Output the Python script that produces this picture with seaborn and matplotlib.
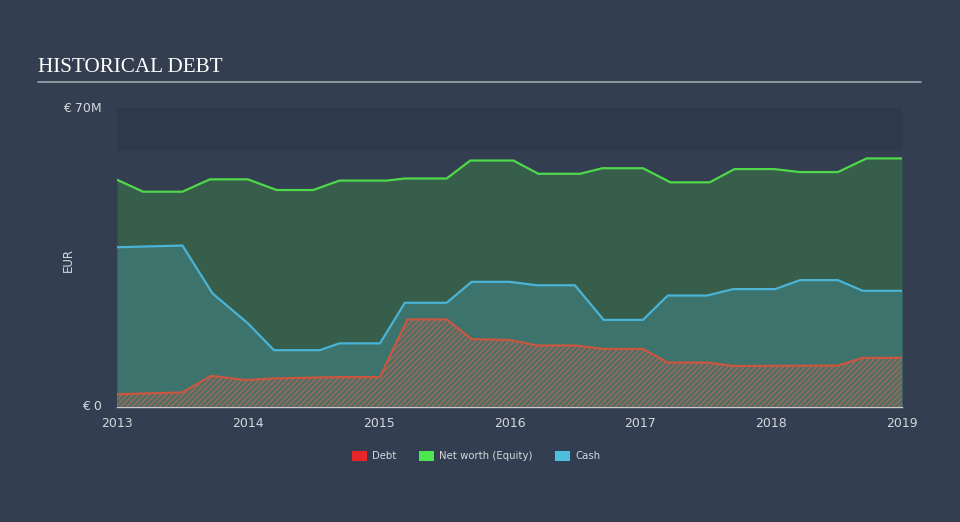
import numpy as np
import pandas as pd
import matplotlib
matplotlib.use("Agg")
import matplotlib.pyplot as plt
import seaborn as sns
from matplotlib.patches import Patch

# ---- data (years as float offset from 2013, values in € millions) ----
equity_t = [0, 0.2, 0.5, 0.71, 1.0, 1.22, 1.5, 1.7, 2.06, 2.2, 2.52, 2.7, 3.03, 3.22, 3.54, 3.71, 4.02, 4.23, 4.53, 4.72, 5.02, 5.22, 5.51, 5.73, 6.0]
equity_v = [53.2, 50.4, 50.4, 53.3, 53.3, 50.8, 50.8, 53.0, 53.0, 53.5, 53.5, 57.7, 57.7, 54.6, 54.6, 55.9, 55.9, 52.6, 52.6, 55.7, 55.7, 55.0, 55.0, 58.2, 58.2]

cash_t = [0, 0.5, 0.73, 1.0, 1.2, 1.55, 1.7, 2.01, 2.2, 2.52, 2.71, 3.0, 3.21, 3.5, 3.72, 4.02, 4.21, 4.51, 4.71, 5.03, 5.22, 5.51, 5.7, 6.0]
cash_v = [37.4, 37.8, 26.6, 19.6, 13.3, 13.3, 14.9, 14.9, 24.4, 24.4, 29.3, 29.3, 28.5, 28.5, 20.4, 20.4, 26.1, 26.1, 27.6, 27.6, 29.7, 29.7, 27.2, 27.2]

debt_t = [0, 0.5, 0.72, 0.98, 1.2, 1.7, 2.01, 2.22, 2.52, 2.71, 3.0, 3.21, 3.5, 3.72, 4.02, 4.21, 4.51, 4.71, 5.51, 5.7, 6.0]
debt_v = [3.0, 3.4, 7.3, 6.3, 6.7, 7.0, 7.0, 20.5, 20.5, 15.9, 15.7, 14.4, 14.4, 13.6, 13.6, 10.4, 10.4, 9.6, 9.7, 11.5, 11.5]

start_year = 2013
year_ticks = [2013, 2014, 2015, 2016, 2017, 2018, 2019]
y_ticks = [0, 70]
y_tick_labels = ["€ 0", "€ 70M"]

series_names = ["Debt", "Net worth (Equity)", "Cash"]
line_colors = {"Debt": "#c9573f", "Net worth (Equity)": "#4fd84a", "Cash": "#4ab3d6"}
legend_colors = {"Debt": "#e8262a", "Net worth (Equity)": "#4de84d", "Cash": "#4dbde0"}

BG = "#333f50"
TXT = "#d4d8dc"

rows = []
for name, ts, vs in [("Debt", debt_t, debt_v), ("Net worth (Equity)", equity_t, equity_v), ("Cash", cash_t, cash_v)]:
    for t, v in zip(ts, vs):
        rows.append({"year": start_year + t, "value": v, "series": name})
df = pd.DataFrame(rows)

sns.set_style("dark")
plt.rcParams["font.family"] = ["DejaVu Sans"]
plt.rcParams["hatch.linewidth"] = 1.0

fig = plt.figure(figsize=(9.6, 5.22), dpi=100, facecolor=BG)
ax = fig.add_axes([117/960, 1-407/522, 785/960, 299/522])
ax.set_facecolor(BG)

# darker band in upper part of plot
ax.axhspan(60, 70, color="#2e3a4b", zorder=0, lw=0)

eq = df[df.series == "Net worth (Equity)"]
ca = df[df.series == "Cash"]
de = df[df.series == "Debt"]
ax.fill_between(eq.year, 0, eq.value, color="#365e4b", lw=0, zorder=1)
ax.fill_between(ca.year, 0, ca.value, color="#3c746d", lw=0, zorder=2)
ax.fill_between(de.year, 0, de.value, facecolor="#4f6e66", edgecolor="#a06a5a",
                hatch="//////", lw=0, zorder=3)

sns.lineplot(data=df, x="year", y="value", hue="series", hue_order=series_names,
             palette=line_colors, linewidth=1.6, ax=ax, legend=False, zorder=4,
             estimator=None, sort=False)

ax.set_xlim(2013, 2019)
ax.set_ylim(0, 70)
ax.set_xticks(year_ticks)
ax.set_xticklabels([str(y) for y in year_ticks], color=TXT, fontsize=9)
ax.set_yticks(y_ticks)
ax.set_yticklabels(y_tick_labels, color=TXT, fontsize=9)
ax.tick_params(axis="x", length=4, color="#c8ccd0", width=0.8, pad=3)
ax.tick_params(axis="y", length=0, pad=11)
for lab in ax.get_yticklabels():
    lab.set_verticalalignment("center")
ax.set_xlabel("")
ax.set_ylabel("")
ax.grid(False)
for s in ["top", "right", "left"]:
    ax.spines[s].set_visible(False)
ax.spines["bottom"].set_color("#c8ccd0")
ax.spines["bottom"].set_linewidth(1.0)

fig.text(68/960, 1-260/522, "EUR", color=TXT, fontsize=8.5, rotation=90,
         ha="center", va="center")

# title and rule
fig.text(38/960, 1-67/522, "HISTORICAL DEBT", color="white", fontsize=15.2,
         family=["Liberation Serif", "DejaVu Serif"], va="center", ha="left")
fig.add_artist(plt.Line2D([38/960, 921/960], [1-82/522, 1-82/522], color="#a0a5ab", lw=1.2))

# legend
handles = [Patch(facecolor=legend_colors[n], edgecolor="none", label=n) for n in series_names]
leg = fig.legend(handles=handles, loc="center", bbox_to_anchor=(476/960, 1-456/522), ncol=3,
                 frameon=False, fontsize=7.3, handlelength=1.5, handleheight=1.2,
                 columnspacing=2.2, handletextpad=0.5)
for t in leg.get_texts():
    t.set_color(TXT)

fig.savefig("out.png", dpi=100, facecolor=BG)
